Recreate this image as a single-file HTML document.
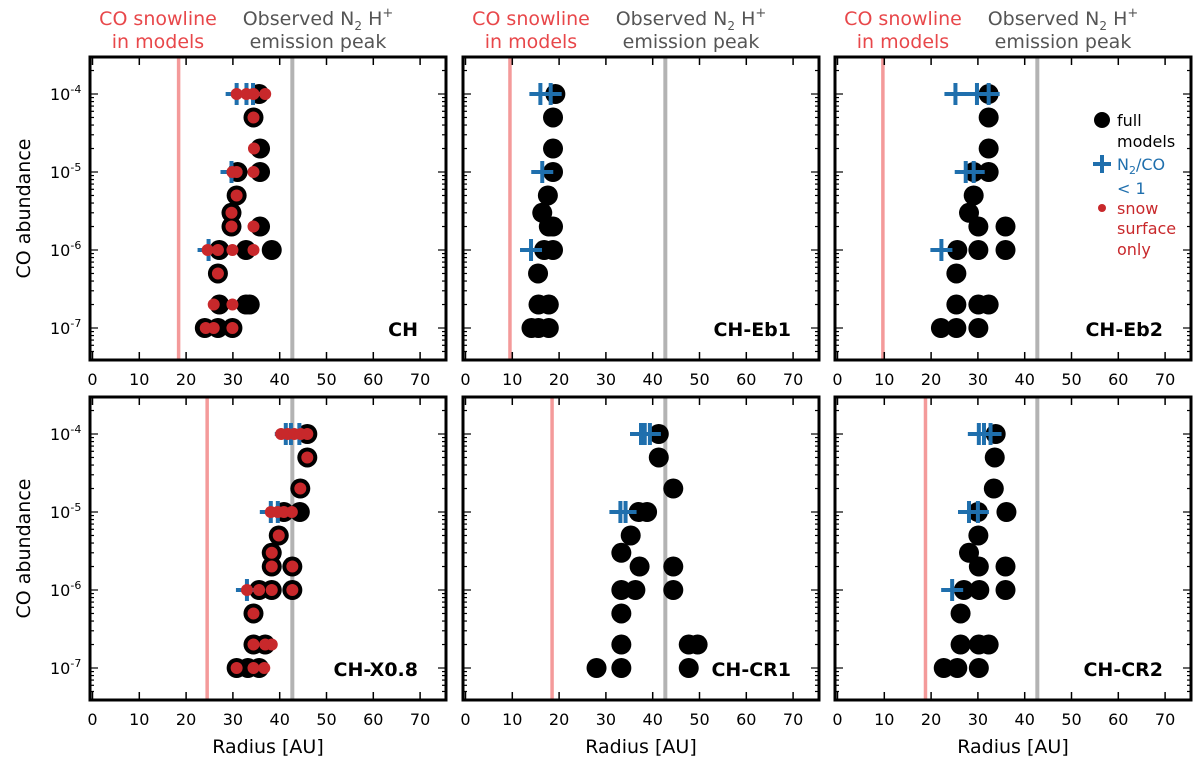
<!DOCTYPE html>
<html><head><meta charset="utf-8"><style>
body{margin:0;background:#fff}
svg{display:block;font-family:"DejaVu Sans","Liberation Sans",sans-serif}
</style></head><body>
<svg id="chart" width="1200" height="764" viewBox="0 0 1200 764" xmlns="http://www.w3.org/2000/svg"></svg>
<script>
const panelNames = ["CH","CH-Eb1","CH-Eb2","CH-X0.8","CH-CR1","CH-CR2"];
const snowlines = [18.4, 9.5, 9.7, 24.5, 18.5, 18.8];
const n2hPeak = 42.7;
const xTicks = [0,10,20,30,40,50,60,70];
const yTicks = [-4,-5,-6,-7];
// full models: [radius AU, abundance]
const fullCH = [[35.6,1e-4],[34.4,5e-5],[35.8,2e-5],[31.0,1e-5],[35.8,1e-5],[30.8,5e-6],[29.7,3e-6],[29.7,2e-6],[35.8,2e-6],[27.1,1e-6],[32.8,1e-6],[38.3,1e-6],[26.8,5e-7],[27.1,2e-7],[32.8,2e-7],[33.6,2e-7],[24.0,1e-7],[26.8,1e-7],[29.9,1e-7]];
const fullEb1 = [[19.2,1e-4],[18.7,5e-5],[18.7,2e-5],[18.7,1e-5],[17.6,5e-6],[16.4,3e-6],[18.7,2e-6],[17.8,2e-6],[18.7,1e-6],[16.8,1e-6],[15.5,5e-7],[15.6,2e-7],[17.8,2e-7],[14.1,1e-7],[15.6,1e-7],[17.8,1e-7]];
const fullEb2 = [[32.3,1e-4],[32.3,5e-5],[32.3,2e-5],[32.3,1e-5],[29.1,1e-5],[29.1,5e-6],[28.1,3e-6],[30.1,2e-6],[35.9,2e-6],[25.6,1e-6],[30.1,1e-6],[35.9,1e-6],[25.4,5e-7],[25.4,2e-7],[30.1,2e-7],[32.3,2e-7],[22.1,1e-7],[25.4,1e-7],[30.1,1e-7]];
const fullX08 = [[45.9,1e-4],[45.9,5e-5],[44.4,2e-5],[40.9,1e-5],[44.3,1e-5],[39.8,5e-6],[38.3,3e-6],[38.3,2e-6],[42.7,2e-6],[35.6,1e-6],[38.3,1e-6],[42.7,1e-6],[34.4,5e-7],[34.4,2e-7],[36.9,2e-7],[30.8,1e-7],[33.2,1e-7],[35.6,1e-7]];
const fullCR1 = [[41.3,1e-4],[41.3,5e-5],[44.4,2e-5],[37.0,1e-5],[38.8,1e-5],[35.3,5e-6],[33.3,3e-6],[37.2,2e-6],[44.4,2e-6],[33.3,1e-6],[36.3,1e-6],[44.4,1e-6],[33.3,5e-7],[33.3,2e-7],[47.7,2e-7],[49.6,2e-7],[28.0,1e-7],[33.3,1e-7],[47.7,1e-7]];
const fullCR2 = [[33.8,1e-4],[33.6,5e-5],[33.4,2e-5],[30.0,1e-5],[36.1,1e-5],[30.1,5e-6],[28.1,3e-6],[30.2,2e-6],[35.9,2e-6],[27.0,1e-6],[30.3,1e-6],[35.9,1e-6],[26.3,5e-7],[26.3,2e-7],[30.2,2e-7],[32.3,2e-7],[22.7,1e-7],[25.6,1e-7],[30.2,1e-7]];
// N2/CO < 1
const plusCH = [[30.8,1e-4],[32.9,1e-4],[34.3,1e-4],[29.7,1e-5],[24.8,1e-6]];
const plusEb1 = [[16.0,1e-4],[18.2,1e-4],[16.4,1e-5],[14.0,1e-6]];
const plusEb2 = [[25.2,1e-4],[29.8,1e-4],[32.3,1e-4],[27.4,1e-5],[29.1,1e-5],[22.2,1e-6]];
const plusX08 = [[41.3,1e-4],[42.4,1e-4],[44.2,1e-4],[38.1,1e-5],[39.6,1e-5],[33.0,1e-6]];
const plusCR1 = [[37.5,1e-4],[38.3,1e-4],[39.4,1e-4],[33.1,1e-5],[34.2,1e-5]];
const plusCR2 = [[30.2,1e-4],[31.3,1e-4],[32.7,1e-4],[28.1,1e-5],[30.0,1e-5],[24.5,1e-6]];
// snow surface only
const snowCH = [[30.8,1e-4],[32.9,1e-4],[34.4,1e-4],[36.9,1e-4],[34.4,5e-5],[34.5,2e-5],[29.9,1e-5],[30.8,1e-5],[34.4,1e-5],[30.8,5e-6],[29.7,3e-6],[29.7,2e-6],[34.4,2e-6],[24.6,1e-6],[26.8,1e-6],[29.9,1e-6],[34.4,1e-6],[26.8,5e-7],[25.9,2e-7],[29.9,2e-7],[24.2,1e-7],[25.9,1e-7],[29.9,1e-7]];
const snowX08 = [[40.3,1e-4],[41.7,1e-4],[43.1,1e-4],[44.5,1e-4],[45.9,1e-4],[45.9,5e-5],[44.4,2e-5],[38.1,1e-5],[39.6,1e-5],[40.9,1e-5],[42.6,1e-5],[39.8,5e-6],[38.3,3e-6],[38.3,2e-6],[42.7,2e-6],[33.0,1e-6],[35.6,1e-6],[38.3,1e-6],[42.7,1e-6],[34.4,5e-7],[34.4,2e-7],[36.9,2e-7],[38.3,2e-7],[30.8,1e-7],[34.4,1e-7],[36.7,1e-7]];
const fullSets=[fullCH,fullEb1,fullEb2,fullX08,fullCR1,fullCR2];
const plusSets=[plusCH,plusEb1,plusEb2,plusX08,plusCR1,plusCR2];
const snowSets=[snowCH,[],[],snowX08,[],[]];

const NS="http://www.w3.org/2000/svg";
const svg=document.getElementById('chart');
function mk(tag,attrs,parent,text){const e=document.createElementNS(NS,tag);for(const k in attrs)e.setAttribute(k,attrs[k]);if(text!==undefined)e.textContent=text;(parent||svg).appendChild(e);return e;}
const lefts=[90,463,835], tops=[57,397], W=356, H=303;
const BLUE="#1f6fad", RED="#c8282b";

panelNames.forEach((name,i)=>{
  const L=lefts[i%3], T=tops[Math.floor(i/3)];
  const xs=v=>L+2.5+v*4.68;
  const ys=v=>T+37+(-4-Math.log10(v))*78;
  const g=mk('g',{}); 
  
  const s=mk('line',{x1:xs(snowlines[i]),x2:xs(snowlines[i]),y1:T,y2:T+H,stroke:"#f49a9a","stroke-width":3.5},g);
   
  const p=mk('line',{x1:xs(n2hPeak),x2:xs(n2hPeak),y1:T,y2:T+H,stroke:"#b3b3b3","stroke-width":4},g);
   
  // ticks
  xTicks.forEach(t=>{
    const x=xs(t);
    mk('line',{x1:x,x2:x,y1:T+H,y2:T+H-8,stroke:"#000","stroke-width":1.5},g);
    mk('line',{x1:x,x2:x,y1:T,y2:T+8,stroke:"#000","stroke-width":1.5},g);
    const tl=mk('text',{x:x,y:T+H+25,"text-anchor":"middle","font-size":16},g,String(t));
     
  });
  for(let d=-8;d<=-4;d++){
    for(let m=1;m<10;m++){
      const v=m*Math.pow(10,d), y=ys(v);
      if(y<T+1||y>T+H-1) continue;
      const len=m===1?8:4;
      mk('line',{x1:L,x2:L+len,y1:y,y2:y,stroke:"#000","stroke-width":1.2},g);
      mk('line',{x1:L+W,x2:L+W-len,y1:y,y2:y,stroke:"#000","stroke-width":1.2},g);
    }
  }
  if(i%3===0){
    yTicks.forEach(t=>{
      const y=ys(Math.pow(10,t));
      const tl=mk('text',{x:L-40,y:y+6,"font-size":16},g);
       
      mk('tspan',{},tl,"10");
      mk('tspan',{dy:-7,"font-size":11},tl,String(t));
    });
    const yl=mk('text',{x:0,y:0,"font-size":19,"text-anchor":"middle",transform:`translate(30,${T+H/2}) rotate(-90)`},g,"CO abundance");
     
  }
  fullSets[i].forEach(d=>{const c=mk('circle',{cx:xs(d[0]),cy:ys(d[1]),r:10,fill:"#000"},g);
     });
  plusSets[i].forEach(d=>{const x=xs(d[0]),y=ys(d[1]);
    const pp=mk('path',{d:`M${x-11},${y}H${x+11}M${x},${y-11}V${y+11}`,stroke:BLUE,"stroke-width":4},g);
     });
  snowSets[i].forEach(d=>{const c=mk('circle',{cx:xs(d[0]),cy:ys(d[1]),r:6,fill:RED},g);
     });
  const fr=mk('rect',{x:L,y:T,width:W,height:H,fill:"none",stroke:"#000","stroke-width":3},g);
   
  const pl=mk('text',{x:L+W-28,y:T+H-24,"text-anchor":"end","font-size":19,"font-weight":"bold"},g,name);
   
  if(i<3){
    const a=mk('text',{x:L+68,y:25,"text-anchor":"middle","font-size":19,fill:"#e8474a"},g);
     
    mk('tspan',{x:L+68,y:25},a,"CO snowline"); mk('tspan',{x:L+68,y:48},a,"in models");
    const b=mk('text',{x:L+228,y:25,"text-anchor":"middle","font-size":19,fill:"#555"},g);
     
    mk('tspan',{x:L+228,y:25},b,"Observed N");
    mk('tspan',{dy:5,"font-size":12},b,"2");
    mk('tspan',{dy:-5},b," H");
    mk('tspan',{dy:-8,"font-size":13},b,"+");
    mk('tspan',{x:L+228,y:48},b,"emission peak");
  } else {
    const xl=mk('text',{x:L+W/2,y:753,"text-anchor":"middle","font-size":19},g,"Radius [AU]");
     
  }
});
// legend in CH-Eb2 panel
const lg=mk('g',{});  
mk('circle',{cx:1102,cy:120,r:8,fill:"#000"},lg);
mk('text',{x:1117,y:126,"font-size":16},lg,"full");
mk('text',{x:1117,y:147,"font-size":16},lg,"models");
mk('path',{d:"M1093,164H1111M1102,155V173",stroke:BLUE,"stroke-width":4},lg);
const t2=mk('text',{x:1117,y:170,"font-size":16,fill:BLUE},lg);
mk('tspan',{},t2,"N"); mk('tspan',{dy:4,"font-size":11},t2,"2"); mk('tspan',{dy:-4},t2,"/CO");
mk('text',{x:1117,y:194,"font-size":16,fill:BLUE},lg,"< 1");
mk('circle',{cx:1102,cy:208,r:4,fill:RED},lg);
mk('text',{x:1117,y:214,"font-size":16,fill:RED},lg,"snow");
mk('text',{x:1117,y:234,"font-size":16,fill:RED},lg,"surface");
mk('text',{x:1117,y:255,"font-size":16,fill:RED},lg,"only");
</script>
</body></html>
